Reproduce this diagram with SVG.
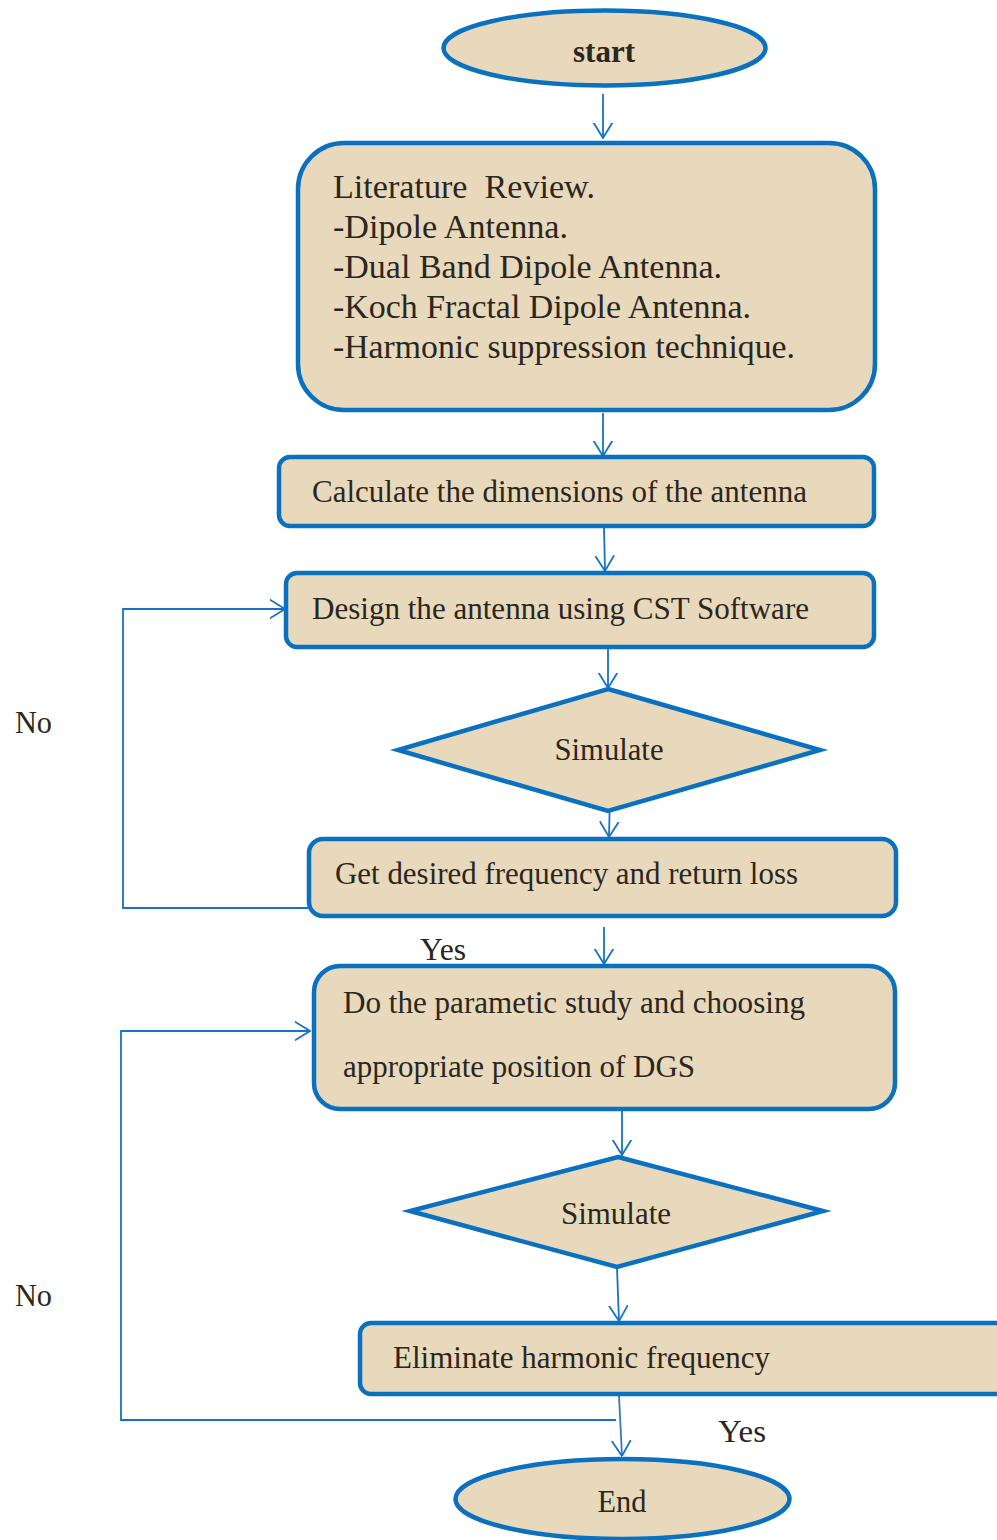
<svg xmlns="http://www.w3.org/2000/svg" width="997" height="1540" viewBox="0 0 997 1540">
<defs>
<style>
.n{fill:#e8d9bc;stroke:#0a70c0;stroke-width:4.5}
.t{font-family:"Liberation Serif","Times New Roman",serif;font-size:32px;fill:#2b2620}
.c{fill:none;stroke:#1673c6;stroke-width:1.8}
</style>
<marker id="ah" viewBox="0 0 16 20" refX="15.5" refY="10" markerWidth="16" markerHeight="20" markerUnits="userSpaceOnUse" orient="auto">
<path d="M0,0.5 L15.5,10 L0,19.5" fill="none" stroke="#1673c6" stroke-width="1.8"/>
</marker>
</defs>
<rect width="997" height="1540" fill="#ffffff"/>

<g id="connectors">
<path class="c" d="M603,94 L603,138" marker-end="url(#ah)"/>
<path class="c" d="M603,413 L603,456" marker-end="url(#ah)"/>
<path class="c" d="M604,528 L605,571" marker-end="url(#ah)"/>
<path class="c" d="M608,649 L608,688" marker-end="url(#ah)"/>
<path class="c" d="M610,794 L609,837" marker-end="url(#ah)"/>
<path class="c" d="M308,908 L123,908 L123,609 L285,609" marker-end="url(#ah)"/>
<path class="c" d="M604,927 L604,964" marker-end="url(#ah)"/>
<path class="c" d="M616,1420 L121,1420 L121,1031 L310,1031" marker-end="url(#ah)"/>
<path class="c" d="M622,1094 L622,1155" marker-end="url(#ah)"/>
<path class="c" d="M617,1268 L619,1321" marker-end="url(#ah)"/>
<path class="c" d="M619,1396 L622,1456" marker-end="url(#ah)" style="stroke:#3f74c2"/>
</g>

<g id="start">
<ellipse class="n" cx="604.5" cy="48" rx="161" ry="37.5"/>
<text class="t" x="604" y="62" text-anchor="middle" font-weight="bold" style="font-size:31px">start</text>
</g>

<g id="literature">
<rect class="n" x="298" y="143" width="577" height="267" rx="46" ry="46"/>
<text class="t" style="font-size:34px" x="333" y="198" textLength="262" lengthAdjust="spacingAndGlyphs" xml:space="preserve">Literature  Review.</text>
<text class="t" style="font-size:34px" x="333" y="238" textLength="235" lengthAdjust="spacingAndGlyphs">-Dipole Antenna.</text>
<text class="t" style="font-size:34px" x="333" y="278" textLength="389" lengthAdjust="spacingAndGlyphs">-Dual Band Dipole Antenna.</text>
<text class="t" style="font-size:34px" x="333" y="318" textLength="418" lengthAdjust="spacingAndGlyphs">-Koch Fractal Dipole Antenna.</text>
<text class="t" style="font-size:34px" x="333" y="358" textLength="462" lengthAdjust="spacingAndGlyphs">-Harmonic suppression technique.</text>
</g>

<g id="calculate">
<rect class="n" x="279" y="457" width="595" height="69" rx="11" ry="11"/>
<text class="t" x="312" y="502" textLength="495" lengthAdjust="spacingAndGlyphs">Calculate the dimensions of the antenna</text>
</g>

<g id="design">
<rect class="n" x="286" y="573" width="588" height="74" rx="11" ry="11"/>
<text class="t" x="312" y="619" textLength="497" lengthAdjust="spacingAndGlyphs">Design the antenna using CST Software</text>
</g>

<g id="simulate1">
<polygon class="n" points="608,689 820,750 608,811 398,750"/>
<text class="t" x="609" y="760" text-anchor="middle" textLength="109" lengthAdjust="spacingAndGlyphs">Simulate</text>
</g>

<g id="getfreq">
<rect class="n" x="309" y="839" width="587" height="77" rx="14" ry="14"/>
<text class="t" x="335" y="884" textLength="463" lengthAdjust="spacingAndGlyphs">Get desired frequency and return loss</text>
</g>

<text class="t" x="420" y="960" textLength="46" lengthAdjust="spacingAndGlyphs">Yes</text>
<text class="t" x="15" y="733" textLength="37" lengthAdjust="spacingAndGlyphs">No</text>
<text class="t" x="15" y="1306" textLength="37" lengthAdjust="spacingAndGlyphs">No</text>
<text class="t" x="718" y="1442" textLength="48" lengthAdjust="spacingAndGlyphs">Yes</text>

<g id="parametric">
<rect class="n" x="314" y="966" width="581" height="143" rx="26" ry="26"/>
<text class="t" x="343" y="1013" textLength="462" lengthAdjust="spacingAndGlyphs">Do the parametic study and choosing</text>
<text class="t" x="343" y="1077" textLength="352" lengthAdjust="spacingAndGlyphs">appropriate position of DGS</text>
</g>

<g id="simulate2">
<polygon class="n" points="618,1157 823,1211 617,1267 410,1211"/>
<text class="t" x="616" y="1224" text-anchor="middle" textLength="110" lengthAdjust="spacingAndGlyphs">Simulate</text>
</g>

<g id="eliminate">
<rect class="n" x="360" y="1323" width="660" height="71" rx="11" ry="11"/>
<text class="t" x="393" y="1368" textLength="377" lengthAdjust="spacingAndGlyphs">Eliminate harmonic frequency</text>
</g>

<g id="end">
<ellipse class="n" cx="622.5" cy="1499" rx="167" ry="40"/>
<text class="t" x="622" y="1512" text-anchor="middle" textLength="49" lengthAdjust="spacingAndGlyphs">End</text>
</g>
</svg>
